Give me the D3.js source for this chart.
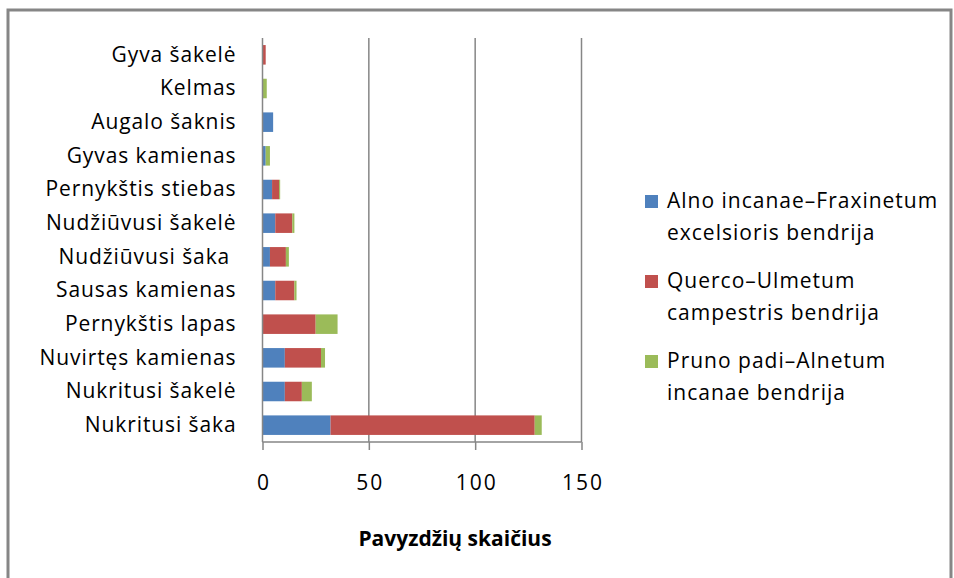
<!DOCTYPE html>
<html><head><meta charset="utf-8">
<script src="https://cdn.jsdelivr.net/npm/d3@7"></script>
<style>
html,body{margin:0;padding:0;background:#fff;}
text{font-family:"Open Sans",Lato,sans-serif;fill:#000;}
</style></head>
<body>
<svg id="chart" width="954" height="578"></svg>
<script>
const categories = ["Gyva šakelė","Kelmas","Augalo šaknis","Gyvas kamienas","Pernykštis stiebas","Nudžiūvusi šakelė","Nudžiūvusi šaka ","Sausas kamienas","Pernykštis lapas","Nuvirtęs kamienas","Nukritusi šakelė","Nukritusi šaka"];
const seriesNames = ["Alno incanae–Fraxinetum excelsioris bendrija","Querco–Ulmetum campestris bendrija","Pruno padi–Alnetum incanae bendrija"];
const legendLines = [["Alno incanae–Fraxinetum","excelsioris bendrija"],["Querco–Ulmetum","campestris bendrija"],["Pruno padi–Alnetum","incanae bendrija"]];
const alno   = [0, 0, 5, 1.5, 4.5, 6, 3.5, 6, 0, 10.5, 10.5, 32];
const querco = [1.5, 0, 0, 0, 3.3, 8, 7.5, 9, 25, 17, 8, 96];
const pruno  = [0, 2, 0, 2, 0.5, 1, 1.4, 1, 10.3, 1.9, 4.7, 3.3];
const xTicks = [0, 50, 100, 150];
const xTitle = "Pavyzdžių skaičius";
const colors = ["#4F81BD", "#C0504D", "#9BBB59"];

(function () {
const svg = d3.select("#chart");
const gray = "#868686";
const font = "'Open Sans'";

svg.append("path").attr("d", "M8,600 L8,10 L951,10 L951,600")
  .attr("fill", "none").attr("stroke", gray).attr("stroke-width", 3);

const pl = 262.5, pr = 581.5, pt = 38, pb = 442;
const x = d3.scaleLinear().domain([0, 150]).range([pl, pr]);
const y = d3.scaleBand().domain(categories).range([pt, pb]).paddingInner(0.42).paddingOuter(0.21);

svg.append("g").selectAll("line").data(xTicks.slice(1)).join("line")
  .attr("x1", d => x(d)).attr("x2", d => x(d)).attr("y1", pt).attr("y2", pb)
  .attr("stroke", gray).attr("stroke-width", 1.5);

const rows = categories.map((c, i) => ({cat: c, a: alno[i], q: querco[i], p: pruno[i]}));
const stack = d3.stack().keys(["a", "q", "p"])(rows);
svg.append("g").selectAll("g").data(stack).join("g")
  .attr("fill", (d, i) => colors[i])
  .selectAll("rect").data(d => d).join("rect")
  .attr("x", d => x(d[0])).attr("width", d => x(d[1]) - x(d[0]))
  .attr("y", d => y(d.data.cat)).attr("height", y.bandwidth());

const xAxis = svg.append("g").attr("transform", `translate(0,${pb})`)
  .call(d3.axisBottom(x).tickValues(xTicks).tickSize(8).tickPadding(25).tickFormat(d3.format("d")));
xAxis.select(".domain").attr("stroke", gray).attr("stroke-width", 1.5).attr("d", `M${pl},0H${pr}`);
xAxis.selectAll(".tick line").attr("stroke", gray).attr("stroke-width", 1.5);
xAxis.selectAll(".tick text").attr("font-size", 21).attr("font-family", font).attr("fill", "#000")
  .attr("letter-spacing", 2).attr("dx", 1);

const yAxis = svg.append("g").attr("transform", `translate(${pl},0)`)
  .call(d3.axisLeft(y).tickSize(0).tickPadding(26));
yAxis.select(".domain").attr("stroke", gray).attr("stroke-width", 1.5).attr("d", `M0,${pt}V${pb}`);
yAxis.selectAll(".tick text").attr("font-size", 21).attr("font-family", font).attr("fill", "#000")
  .attr("letter-spacing", 0.9).style("white-space", "pre");

svg.append("text").attr("x", 455).attr("y", 546).attr("text-anchor", "middle")
  .attr("font-size", 21).attr("font-weight", "bold").text(xTitle);

const lg = svg.append("g");
const entryY = [201, 281, 361];
legendLines.forEach((lines, i) => {
  lg.append("rect").attr("x", 645).attr("y", entryY[i] - 6).attr("width", 13).attr("height", 13).attr("fill", colors[i]);
  lines.forEach((t, j) => {
    lg.append("text").attr("x", 667).attr("y", entryY[i] + j * 32).attr("dy", "0.35em")
      .attr("font-size", 21).attr("letter-spacing", 1).text(t);
  });
});
})();
</script>
</body></html>
